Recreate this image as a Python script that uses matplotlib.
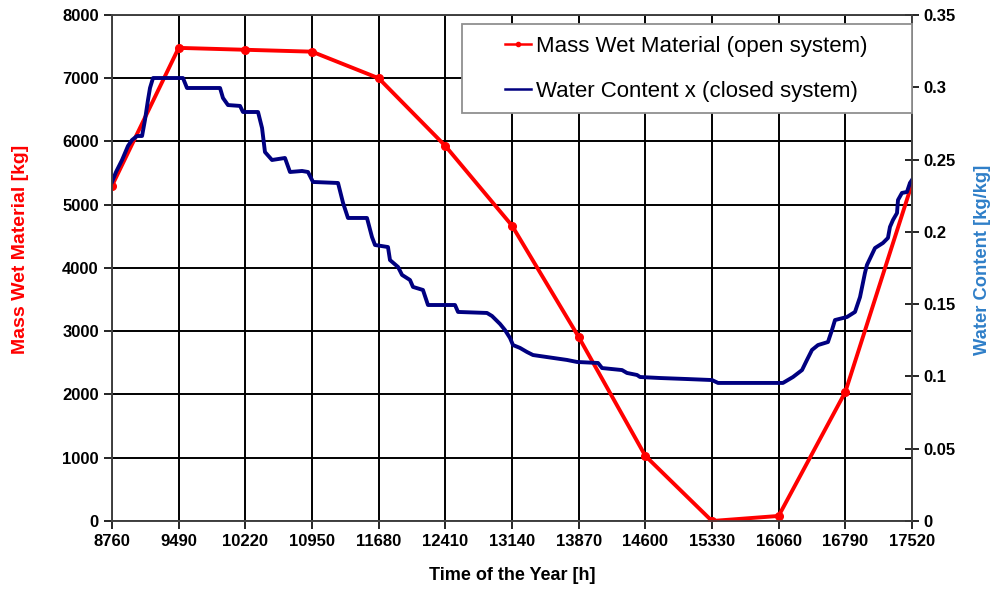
import matplotlib
matplotlib.use("Agg")
import matplotlib.pyplot as plt
from matplotlib.ticker import FuncFormatter
from matplotlib.patches import Rectangle

plt.rcParams['font.family'] = ['Liberation Sans', 'DejaVu Sans']

# mass of wet material, one value per tick of the time axis
hours = [8760, 9490, 10220, 10950, 11680, 12410, 13140,
         13870, 14600, 15330, 16060, 16790, 17520]
mass = [5300, 7480, 7450, 7420, 7000, 5930, 4670,
        2910, 1030, 0, 80, 2040, 5330]

# water content of the closed system (stepwise trace)
wc_hours = [8760, 8804, 8870, 8935, 8979, 9034, 9089, 9121, 9154, 9176,
            9209, 9537, 9581, 9943, 9975, 10030, 10162, 10194, 10359, 10403,
            10435, 10512, 10654, 10709, 10841, 10906, 10961, 11235, 11290, 11344,
            11552, 11607, 11640, 11782, 11804, 11892, 11936, 12023, 12056, 12165,
            12220, 12516, 12549, 12866, 12921, 13009, 13063, 13118, 13151, 13228,
            13304, 13370, 13523, 13742, 13852, 14082, 14126, 14345, 14399, 14509,
            14542, 14761, 15056, 15330, 15396, 16107, 16217, 16316, 16370, 16425,
            16491, 16600, 16644, 16677, 16808, 16896, 16951, 17005, 17027, 17115,
            17202, 17257, 17279, 17312, 17356, 17367, 17410, 17465, 17498, 17520]
wc = [0.2345, 0.2414, 0.2497, 0.2594, 0.2635, 0.2663, 0.2663, 0.2774, 0.2912, 0.2995,
      0.3064, 0.3064, 0.2995, 0.2995, 0.2926, 0.2877, 0.2871, 0.2829, 0.2829, 0.2718,
      0.2552, 0.2497, 0.2511, 0.2414, 0.2421, 0.2414, 0.2345, 0.2338, 0.2200, 0.2096,
      0.2096, 0.1964, 0.1909, 0.1895, 0.1805, 0.1757, 0.1702, 0.1667, 0.1619, 0.1598,
      0.1494, 0.1494, 0.1446, 0.1439, 0.1418, 0.1363, 0.1321, 0.1266, 0.1217, 0.1197,
      0.1169, 0.1148, 0.1134, 0.1114, 0.1100, 0.1093, 0.1058, 0.1044, 0.1024, 0.1010,
      0.0996, 0.0989, 0.0982, 0.0975, 0.0955, 0.0955, 0.0996, 0.1044, 0.1114, 0.1183,
      0.1217, 0.1238, 0.1321, 0.1390, 0.1411, 0.1446, 0.1549, 0.1715, 0.1771, 0.1888,
      0.1923, 0.1958, 0.2034, 0.2082, 0.2130, 0.2220, 0.2269, 0.2276, 0.2338, 0.2359]

mass_ticks = [0, 1000, 2000, 3000, 4000, 5000, 6000, 7000, 8000]
wc_ticks = [0, 0.05, 0.1, 0.15, 0.2, 0.25, 0.3, 0.35]

fig = plt.figure(figsize=(9.93, 5.97), dpi=100)
ax = fig.add_axes([0.1128, 0.1273, 0.8056, 0.8476])
ax2 = ax.twinx()

ax.plot(hours, mass, color='#ff0000', lw=2.8, marker='o', ms=5.5,
        label='Mass Wet Material (open system)', zorder=3)
ax2.plot(wc_hours, wc, color='#000080', lw=2.8,
         label='Water Content x (closed system)')

ax.set_xlim(8760, 17520)
ax.set_ylim(0, 8000)
ax2.set_ylim(0, 0.35)
ax.set_xticks(hours)
ax.set_yticks(mass_ticks)
ax2.set_yticks(wc_ticks)
ax2.yaxis.set_major_formatter(FuncFormatter(lambda v, p: f'{v:g}'))

ax.grid(True, color='black', lw=1.4)
ax.set_axisbelow(True)

for a in (ax, ax2):
    for s in a.spines.values():
        s.set_color('#404040')
        s.set_linewidth(1.2)
ax.tick_params(axis='both', direction='out', length=6, width=1.2, labelsize=12)
ax2.tick_params(axis='y', direction='inout', length=10, width=1.2, labelsize=12)
for lab in ax.get_xticklabels() + ax.get_yticklabels() + ax2.get_yticklabels():
    lab.set_fontweight('bold')

ax.set_xlabel('Time of the Year [h]', fontsize=13, fontweight='bold', labelpad=13)
ax.set_ylabel('Mass Wet Material [kg]', fontsize=14, fontweight='bold', color='#ff0000')
ax.yaxis.set_label_coords(-0.104, 0.536)
ax2.set_ylabel('Water Content [kg/kg]', fontsize=13.2, fontweight='bold', color='#2f7fc8')
ax2.yaxis.set_label_coords(1.078, 0.516)

# legend box drawn as its own white panel over the grid
ax2.add_patch(Rectangle((0.4375, 0.806), 0.5625, 0.176, transform=ax2.transAxes,
                        facecolor='white', edgecolor='#909090', lw=1.3,
                        zorder=4, clip_on=False))

h1, l1 = ax.get_legend_handles_labels()
h2, l2 = ax2.get_legend_handles_labels()
leg = ax2.legend(h1 + h2, l1 + l2, loc='center', bbox_to_anchor=(0.718, 0.894),
                 fontsize=16, frameon=False, handlelength=1.15, handletextpad=0.25,
                 borderpad=0, labelspacing=1.08, borderaxespad=0)
leg.set_zorder(5)
for ln in leg.get_lines():
    ln.set_linewidth(1.8)
    ln.set_markersize(3)

fig.savefig('out.png', dpi=100)
